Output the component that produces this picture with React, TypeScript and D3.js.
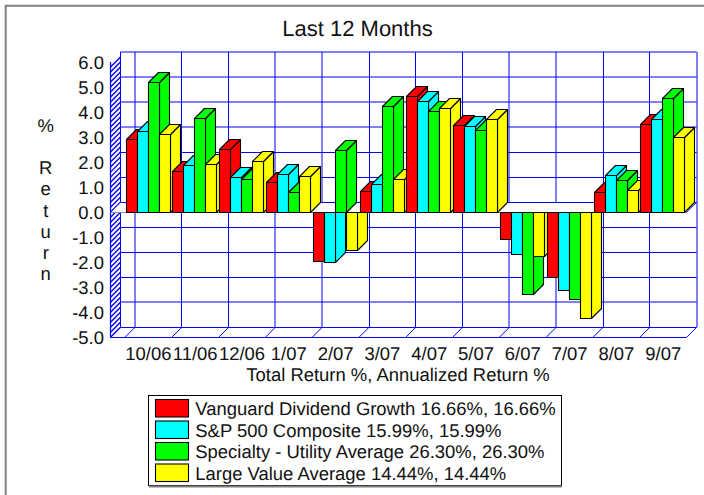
import React from "react";
import * as d3 from "d3";

const months = ["10/06", "11/06", "12/06", "1/07", "2/07", "3/07", "4/07", "5/07", "6/07", "7/07", "8/07", "9/07"];
const vanguard = [2.91, 1.63, 2.51, 1.17, -1.99, 0.83, 4.61, 3.47, -1.09, -2.6, 0.8, 3.51];
const sp500 = [3.24, 1.85, 1.37, 1.51, -2.01, 1.11, 4.41, 3.44, -1.69, -3.13, 1.45, 3.71];
const utility = [5.19, 3.75, 1.29, 0.79, 2.48, 4.21, 4.01, 3.28, -3.28, -3.49, 1.27, 4.53];
const largeValue = [3.12, 1.92, 2.01, 1.41, -1.55, 1.31, 4.15, 3.71, -1.76, -4.24, 0.87, 3.0];
const seriesValues = [vanguard, sp500, utility, largeValue];
const seriesColors = ["#ff0000", "#00ffff", "#00ff00", "#ffff00"];
const legendLabels = [
  "Vanguard Dividend Growth 16.66%, 16.66%",
  "S&P 500 Composite 15.99%, 15.99%",
  "Specialty - Utility Average 26.30%, 26.30%",
  "Large Value Average 14.44%, 14.44%",
];
const yTicks = [6, 5, 4, 3, 2, 1, 0, -1, -2, -3, -4, -5];
const yTitleLetters = ["%", "", "R", "e", "t", "u", "r", "n"];
const softRows = [6, 5, 4, 3, -4];
const softCols = [0, 3, 4, 8, 9, 12];

const FONT = "'Liberation Sans', Arial, Helvetica, sans-serif";
const DEPTH = 10;
const GRID = "#0000ff";
const TEXT_SIZE = 18.45;

const y = d3.scaleLinear().domain([-5, 6]).range([337.3, 62]);
const x = d3.scaleBand().domain(months).range([125, 686.6]);
const barX = d3.scaleBand<number>().domain([0, 1, 2, 3]).range([1, 45]);
const legendRow = d3.scaleLinear().domain([0, 3]).range([399.5, 464]);
const yTitleRow = d3.scaleLinear().domain([0, 7]).range([132, 280]);

const crisp = (v: number) => Math.floor(v) + 0.5;
const face = (pts: number[][]) => d3.line()(pts as [number, number][]) + "Z";
const tickLabel = (v: number) => v.toFixed(1);

export default function App() {
  const y0 = crisp(y(0));
  const wallLeft = 110.5;
  const wallBack = wallLeft + DEPTH;
  const frontRight = x.range()[1];
  const topBack = y(6) - DEPTH;
  const bottomBack = y(-5) - DEPTH;
  const colEdges = months.map((m) => x(m) as number).concat(frontRight);
  const hatch = d3.range(-5, 6, 0.2);

  return (
    <svg
      width={704}
      height={495}
      style={{ position: "absolute", left: 0, top: 0, background: "#fff", fontFamily: FONT, textRendering: "geometricPrecision" }}
    >
      <path d="M5.7,495V5.7H704" fill="none" stroke="#808080" strokeWidth={2} />

      <text x={357.5} y={36} fontSize={22} textAnchor="middle" fill="#111">Last 12 Months</text>

      {/* left wall */}
      <g stroke={GRID} strokeWidth={1.4} fill="none">
        {hatch.map((v) => (
          <line key={v} x1={wallLeft} x2={wallBack} y1={y(v)} y2={y(v) - DEPTH} />
        ))}
        <line x1={wallLeft} x2={wallLeft} y1={y(6)} y2={y(-5)} strokeWidth={1.2} />
        <line x1={wallBack} x2={wallBack} y1={topBack} y2={bottomBack} strokeWidth={1} />
      </g>

      {/* back wall */}
      <g strokeWidth={1} stroke={GRID} fill="none">
        {yTicks.map((v) => {
          const p = y(v) - DEPTH;
          const py = softRows.includes(v) ? Math.round(p) : crisp(p);
          return <line key={v} x1={wallBack} x2={frontRight + DEPTH} y1={py} y2={py} />;
        })}
        {colEdges.map((c, i) => {
          const p = c + DEPTH;
          const px = softCols.includes(i) ? Math.round(p) : crisp(p);
          return <line key={i} x1={px} x2={px} y1={topBack} y2={bottomBack} />;
        })}
        {/* floor */}
        <line x1={wallLeft} x2={frontRight} y1={crisp(y(-5))} y2={crisp(y(-5))} strokeWidth={1.2} />
        {colEdges.map((c, i) => (
          <line key={i} x1={c} x2={c + DEPTH} y1={y(-5)} y2={bottomBack} />
        ))}
      </g>

      {/* zero plane */}
      <path
        d={face([[wallLeft, y(0)], [wallBack, y(0) - DEPTH], [frontRight + DEPTH, y(0) - DEPTH], [frontRight, y(0)]])}
        fill="#fff"
        stroke="none"
      />
      <line x1={wallBack} x2={frontRight + DEPTH} y1={crisp(y(0) - DEPTH)} y2={crisp(y(0) - DEPTH)} stroke={GRID} />
      <line x1={wallLeft} x2={wallBack} y1={y(0)} y2={y(0) - DEPTH} stroke={GRID} />
      <line x1={wallLeft} x2={frontRight} y1={y0} y2={y0} stroke="#8a8aa0" />
      <line x1={frontRight} x2={frontRight + DEPTH} y1={y(0)} y2={y(0) - DEPTH} stroke={GRID} />

      {/* bars */}
      <g stroke="#000" strokeWidth={1.1} strokeLinejoin="round">
        {months.map((m, i) => (
          <g key={m}>
            {seriesValues.map((vals, s) => {
              const v = vals[i];
              const left = crisp((x(m) as number) + (barX(s) as number));
              const right = left + barX.bandwidth();
              const yv = crisp(y(v));
              const top = Math.min(yv, y0);
              const bottom = Math.max(yv, y0);
              const color = seriesColors[s];
              const sideTop = v > 0 ? top - DEPTH : top;
              return (
                <g key={s} fill={color}>
                  <path d={face([[right, top], [right + DEPTH, sideTop], [right + DEPTH, bottom - DEPTH], [right, bottom]])} />
                  {v > 0 && (
                    <path d={face([[left, top], [left + DEPTH, top - DEPTH], [right + DEPTH, top - DEPTH], [right, top]])} />
                  )}
                  <rect x={left} y={top} width={right - left} height={bottom - top} />
                </g>
              );
            })}
          </g>
        ))}
      </g>

      {/* y axis labels */}
      <g fontSize={TEXT_SIZE} fill="#111" textAnchor="end">
        {yTicks.map((v) => (
          <text key={v} x={104} y={y(v) + 6.5}>{tickLabel(v)}</text>
        ))}
      </g>
      <g fontSize={TEXT_SIZE} fill="#111" textAnchor="middle">
        {yTitleLetters.map((l, i) => (
          <text key={i} x={45.7} y={yTitleRow(i)}>{l}</text>
        ))}
      </g>

      {/* x axis labels */}
      <g fill="#111" textAnchor="middle" fontSize={TEXT_SIZE}>
        {months.map((m) => (
          <text key={m} x={(x(m) as number) + x.bandwidth() / 2} y={360}>{m}</text>
        ))}
        <text x={398} y={381}>Total Return %, Annualized Return %</text>
      </g>

      {/* legend */}
      <rect x={148.5} y={395.5} width={413} height={90} fill="#fff" stroke="#000" />
      <line x1={149} x2={562} y1={486.5} y2={486.5} stroke="#808080" strokeWidth={2} />
      {legendLabels.map((l, i) => (
        <g key={l}>
          <rect x={155.5} y={legendRow(i)} width={33} height={17.5} fill={seriesColors[i]} stroke="#000" strokeWidth={1.1} />
          <text x={195.3} y={legendRow(i) + 15.5} fontSize={TEXT_SIZE} fill="#111">{l}</text>
        </g>
      ))}
    </svg>
  );
}
